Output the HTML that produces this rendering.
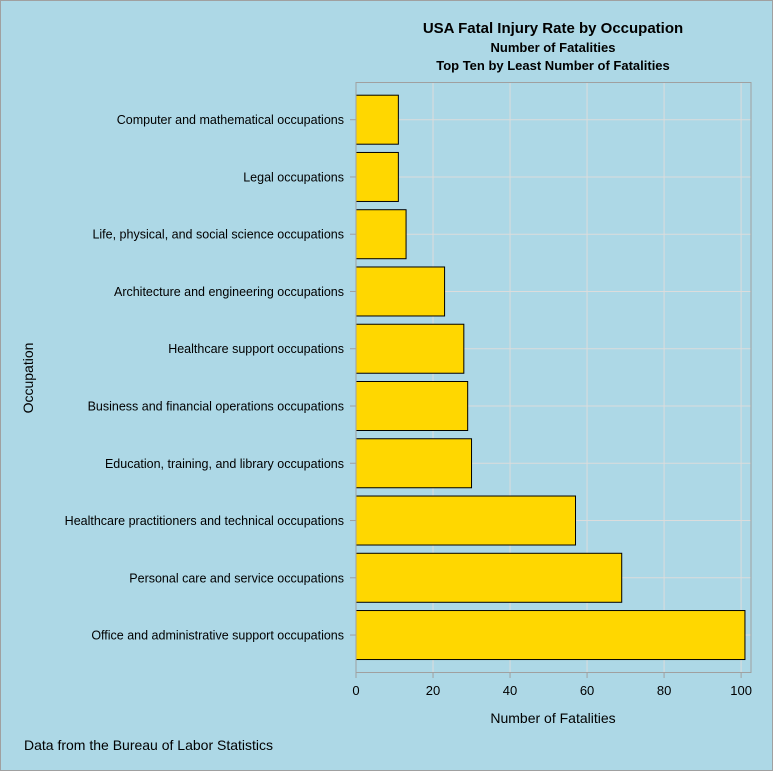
<!DOCTYPE html>
<html><head><meta charset="utf-8"><style>
html,body{margin:0;padding:0;background:#add8e6;}
svg{display:block;font-family:"Liberation Sans",Arial,sans-serif;}
</style></head><body>
<svg id="chart" width="773" height="771" xmlns="http://www.w3.org/2000/svg">
<rect x="0.5" y="0.5" width="772" height="770" fill="#add8e6" stroke="#a0a0a0"/>
<text x="553" y="33" text-anchor="middle" font-size="15" font-weight="bold">USA Fatal Injury Rate by Occupation</text>
<text x="553" y="52" text-anchor="middle" font-size="13" font-weight="bold">Number of Fatalities</text>
<text x="553" y="70" text-anchor="middle" font-size="13" font-weight="bold">Top Ten by Least Number of Fatalities</text>
<g id="grid"></g>
<g id="bars"></g>
<rect x="356" y="82.5" width="395" height="590" fill="none" stroke="#a0a0a0"/>
<g id="axes"></g>
<text x="553" y="723" text-anchor="middle" font-size="14">Number of Fatalities</text>
<text x="33" y="378" text-anchor="middle" font-size="14" transform="rotate(-90 33 378)">Occupation</text>
<text x="24" y="750" font-size="14">Data from the Bureau of Labor Statistics</text>
</svg>
<script>
const categories = ["Computer and mathematical occupations","Legal occupations","Life, physical, and social science occupations","Architecture and engineering occupations","Healthcare support occupations","Business and financial operations occupations","Education, training, and library occupations","Healthcare practitioners and technical occupations","Personal care and service occupations","Office and administrative support occupations"];
const values = [11,11,13,23,28,29,30,57,69,101];
const xTicks = [0,20,40,60,80,100];

const NS="http://www.w3.org/2000/svg";
const x0=356, pxPer=3.851;
const xs = v => x0 + v*pxPer;
const yc = i => 119.7 + i*57.26;
const barH = 49;
function mk(tag, attrs, parent){const e=document.createElementNS(NS,tag);for(const k in attrs)e.setAttribute(k,attrs[k]);parent.appendChild(e);return e;}
const grid=document.getElementById('grid'), bars=document.getElementById('bars'), axes=document.getElementById('axes');
xTicks.forEach(t=>{
  const g=mk('line',{x1:xs(t),x2:xs(t),y1:83,y2:672,stroke:'#dcdcdc','stroke-width':1},grid);
  
  
  const tk=mk('line',{x1:xs(t),x2:xs(t),y1:672.5,y2:678,stroke:'#a0a0a0'},axes);
  
  
  const tl=mk('text',{x:xs(t),y:695,'text-anchor':'middle','font-size':13},axes);
  tl.textContent=t;
  
  
});
categories.forEach((c,i)=>{
  const y=yc(i);
  const g=mk('line',{x1:356,x2:751,y1:y,y2:y,stroke:'#dcdcdc'},grid);
  
  
  const tk=mk('line',{x1:350,x2:356,y1:y,y2:y,stroke:'#a0a0a0'},axes);
  
  
  const tl=mk('text',{x:344,y:y+4.5,'text-anchor':'end','font-size':12.5},axes);
  tl.textContent=c;
  
  
  const b=mk('rect',{x:xs(0),y:y-barH/2,width:xs(values[i])-xs(0),height:barH,fill:'#ffd700',stroke:'#000','stroke-width':1},bars);
  
  
});
</script>
</body></html>
